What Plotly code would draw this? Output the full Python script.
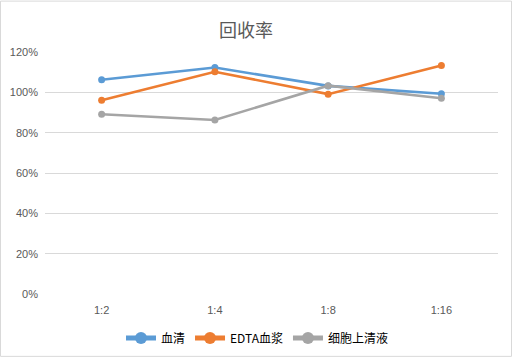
import plotly.graph_objects as go

categories = ["1:2", "1:4", "1:8", "1:16"]
serum = [1.062, 1.123, 1.032, 0.993]
edta_plasma = [0.961, 1.102, 0.991, 1.133]
cell_supernatant = [0.891, 0.863, 1.033, 0.971]
series_names = ["血清", "EDTA血浆", "细胞上清液"]
colors = ["#5B9BD5", "#ED7D31", "#A5A5A5"]

W, H = 513, 358
ml, mr, mt, mb = 45, 15, 51.5, 64
pw, ph = W - ml - mr, H - mt - mb

fig = go.Figure()
for name, vals, c in zip(series_names, [serum, edta_plasma, cell_supernatant], colors):
    fig.add_trace(go.Scatter(
        x=categories, y=vals, name=name, mode="lines+markers",
        line=dict(color=c, width=2.6),
        marker=dict(color=c, size=7),
    ))

font_cjk = "Noto Sans CJK SC, Liberation Sans, sans-serif"
fig.update_layout(
    width=W, height=H,
    margin=dict(l=ml, r=mr, t=mt, b=mb, autoexpand=False),
    paper_bgcolor="white", plot_bgcolor="white",
    title=dict(text="回收率", x=(246 - ml) / pw, xref="paper", xanchor="center",
               y=1 - 31 / H, yanchor="middle",
               font=dict(family=font_cjk, size=18, color="#595959")),
    xaxis=dict(type="category", range=[-0.5, 3.5], showgrid=False, showline=False,
               ticks="", ticklabelstandoff=8,
               tickfont=dict(family="Liberation Sans, sans-serif", size=11, color="#595959"),
               zeroline=False),
    yaxis=dict(range=[0, 1.2], dtick=0.2, tickformat=".0%", showgrid=True,
               gridcolor="#D9D9D9", gridwidth=1, zeroline=False, showline=False,
               ticks="", ticklabelstandoff=6,
               tickfont=dict(family="Liberation Sans, sans-serif", size=11, color="#595959")),
    legend=dict(orientation="h", xref="container", x=257 / W, xanchor="center",
                yref="container", y=1 - 338 / H, yanchor="middle",
                font=dict(family=font_cjk, size=12, color="#000000"),
                itemwidth=30, tracegroupgap=0, itemsizing="constant"),
    showlegend=True,
)
fig.add_shape(type="rect", xref="paper", yref="paper",
              x0=(0.5 - ml) / pw, x1=(511.5 - ml) / pw,
              y0=-(H - 1.5 - mt - ph) / ph, y1=1 + (mt - 0.5) / ph,
              line=dict(color="#D9D9D9", width=1), fillcolor="rgba(0,0,0,0)", layer="below")
fig.write_html("out.html", config={"displayModeBar": False},
               post_script="document.body.style.margin='0';document.body.style.overflow='hidden';")
